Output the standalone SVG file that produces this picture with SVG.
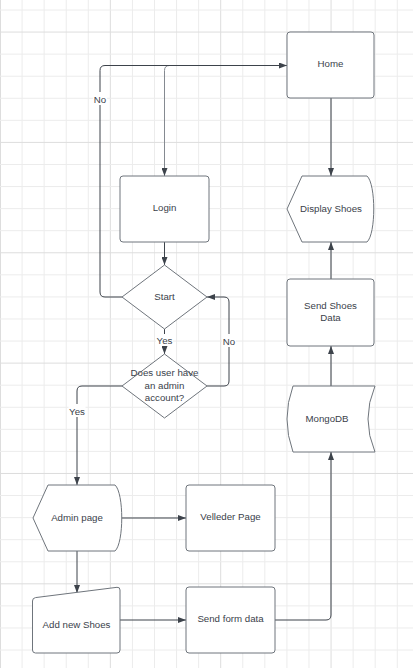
<svg xmlns="http://www.w3.org/2000/svg" width="413" height="672" viewBox="0 0 413 672">
<style>
.minor{stroke:#ececec;stroke-width:1;fill:none}
.major{stroke:#dddddd;stroke-width:1;fill:none}
.node{fill:#ffffff;stroke:#6f757c;stroke-width:1}
.t{font-family:"Liberation Sans",Arial,sans-serif;font-size:9.7px;fill:#3a414a;text-anchor:middle}
.c{fill:none;stroke:#3d434b;stroke-width:1}
.c2{fill:none;stroke:#858a91;stroke-width:1}
.lbl{fill:#ffffff}
</style>
<defs>
<marker id="ah" viewBox="0 0 8 6" refX="8" refY="3" markerWidth="8" markerHeight="6" markerUnits="userSpaceOnUse" orient="auto">
<path d="M0,0 L8,3 L0,6 Z" fill="#3d434b"/>
</marker>
</defs>
<rect width="413" height="672" fill="#ffffff"/>
<g id="grid">
<path class="minor" d="M22.07,0V668M44.14,0V668M66.21,0V668M88.28,0V668M132.42,0V668M154.49,0V668M176.56,0V668M198.63,0V668M242.77,0V668M264.84,0V668M286.91,0V668M308.98,0V668M353.12,0V668M375.19,0V668M397.26,0V668"/>
<path class="major" d="M0.5,0V668M110.35,0V668M220.7,0V668M331.05,0V668"/>
<path class="minor" d="M0,10H413M0,54.14H413M0,76.21H413M0,98.28H413M0,120.35H413M0,164.49H413M0,186.56H413M0,208.63H413M0,230.7H413M0,274.84H413M0,296.91H413M0,318.98H413M0,341.05H413M0,385.19H413M0,407.26H413M0,429.33H413M0,451.4H413M0,495.54H413M0,517.61H413M0,539.68H413M0,561.75H413M0,605.89H413M0,627.96H413M0,650.03H413"/>
<path class="major" d="M0,32.07H413M0,142.42H413M0,252.77H413M0,363.12H413M0,473.47H413M0,583.82H413"/>
</g>
<g id="connectors">
<path class="c" d="M331,98V176" marker-end="url(#ah)"/>
<path class="c" d="M331,279V242" marker-end="url(#ah)"/>
<path class="c" d="M331,386V346" marker-end="url(#ah)"/>
<path class="c" d="M275,620H326Q331,620 331,615V452" marker-end="url(#ah)"/>
<path class="c" d="M120,620H186" marker-end="url(#ah)"/>
<path class="c" d="M121,518H186" marker-end="url(#ah)"/>
<path class="c" d="M77,551V593" marker-end="url(#ah)"/>
<path class="c" d="M122,386H82Q77,386 77,391V485" marker-end="url(#ah)"/>
<path class="c" d="M207,386H224Q229,386 229,381V302Q229,297 224,297H207" marker-end="url(#ah)"/>
<path class="c" d="M164.5,329V354" marker-end="url(#ah)"/>
<path class="c2" d="M287,65.5H169.5Q164.5,65.5 164.5,70.5V176" marker-end="url(#ah)"/>
<path class="c" d="M122,297H105Q100,297 100,292V70.5Q100,65.5 105,65.5H287" marker-end="url(#ah)"/>
<path class="c" d="M164.5,242V265" marker-end="url(#ah)"/>
<rect class="lbl" x="93" y="92" width="14" height="13"/>
<text class="t" x="100" y="102.5">No</text>
<rect class="lbl" x="156" y="334" width="17" height="12"/>
<text class="t" x="164.5" y="344">Yes</text>
<rect class="lbl" x="222" y="334" width="14" height="13"/>
<text class="t" x="229" y="344.5">No</text>
<rect class="lbl" x="68.5" y="404" width="17" height="13"/>
<text class="t" x="77" y="414.5">Yes</text>
</g>
<g id="home">
<rect class="node" x="287" y="32" width="87" height="66" rx="3"/>
<text class="t" x="330.5" y="67">Home</text>
</g>
<g id="login">
<rect class="node" x="120" y="176" width="89" height="66" rx="3"/>
<text class="t" x="164.5" y="211">Login</text>
</g>
<g id="display-shoes">
<path class="node" d="M302,176H367C376,184 376,234 367,242H302L287,209Z"/>
<text class="t" x="331" y="211.5">Display Shoes</text>
</g>
<g id="start">
<path class="node" d="M164.5,265L207,297L164.5,329L122,297Z"/>
<text class="t" x="164.5" y="300">Start</text>
</g>
<g id="admin-check">
<path class="node" d="M164.5,354L207,386L164.5,418L122,386Z"/>
<text class="t" x="164.5" y="376">Does user have</text>
<text class="t" x="164.5" y="388.5">an admin</text>
<text class="t" x="164.5" y="400.5">account?</text>
</g>
<g id="send-shoes-data">
<rect class="node" x="287" y="279" width="87" height="67" rx="3"/>
<text class="t" x="330.5" y="308.5">Send Shoes</text>
<text class="t" x="330.5" y="320.5">Data</text>
</g>
<g id="mongodb">
<path class="node" d="M293,386L375,386Q361,419 375,452L293,452Q281,419 293,386Z"/>
<text class="t" x="327" y="421.5">MongoDB</text>
</g>
<g id="admin-page">
<path class="node" d="M48,485H115C124,493 124,543 115,551H48L33,518Z"/>
<text class="t" x="77" y="521">Admin page</text>
</g>
<g id="velleder-page">
<rect class="node" x="186" y="485" width="89" height="66" rx="3"/>
<text class="t" x="230.5" y="520">Velleder Page</text>
</g>
<g id="add-new-shoes">
<path class="node" d="M35.5,597.6L117,587.3Q120,587 120,590V650Q120,653 117,653H35.5Q32.5,653 32.5,650V601Q32.5,598 35.5,597.6Z"/>
<text class="t" x="76.5" y="627.5">Add new Shoes</text>
</g>
<g id="send-form-data">
<rect class="node" x="186" y="587" width="89" height="66" rx="3"/>
<text class="t" x="230.5" y="621.5">Send form data</text>
</g>
</svg>
